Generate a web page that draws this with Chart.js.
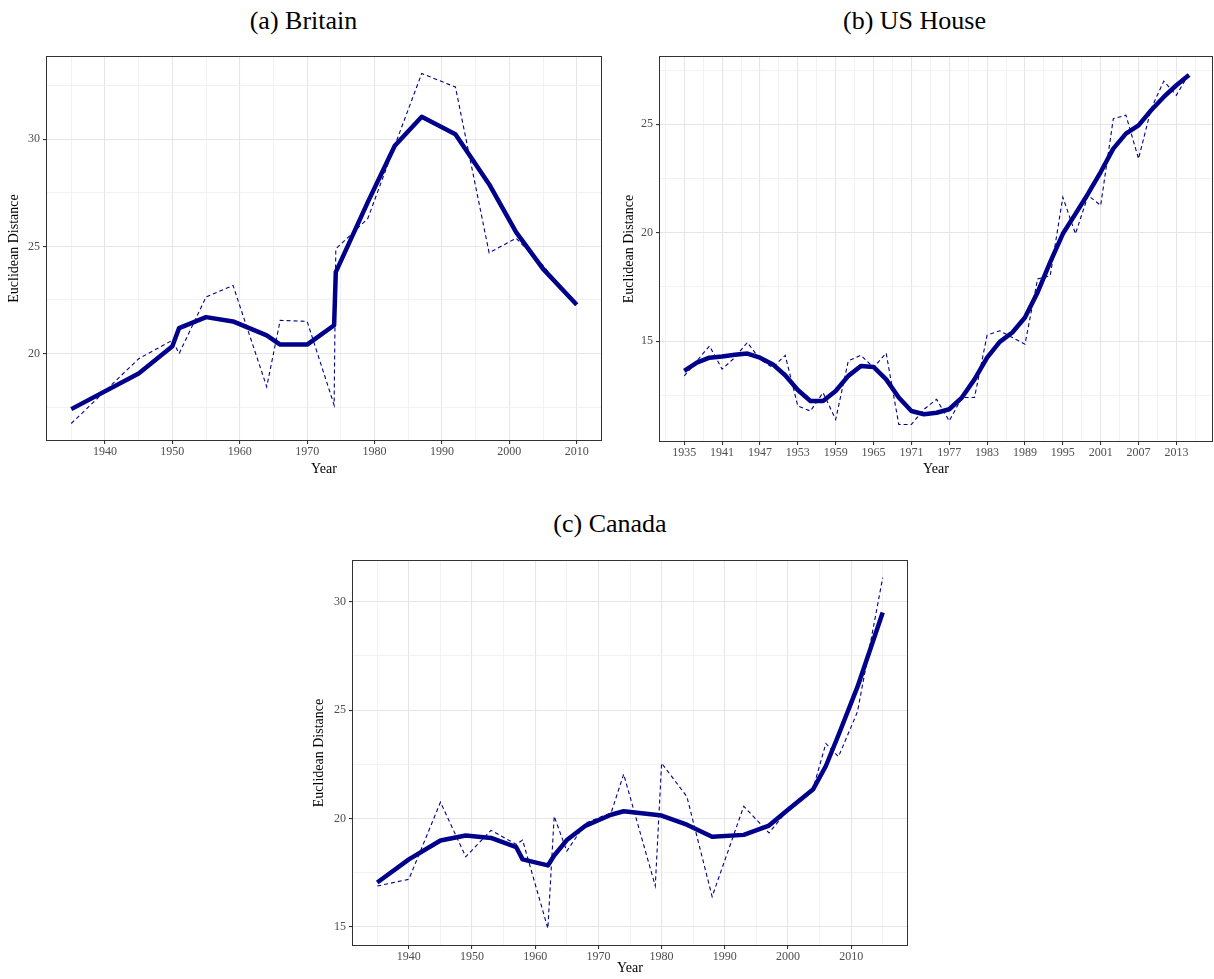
<!DOCTYPE html>
<html>
<head>
<meta charset="utf-8">
<script src="https://cdn.jsdelivr.net/npm/chart.js@4"></script>
<style>
  body { margin: 0; background: #fff; width: 1214px; height: 979px; position: relative; overflow: hidden; }
  .title { position: absolute; font-family: 'Liberation Serif', serif; font-size: 26px; line-height: 26px; text-align: center; color: #000; }
  .panel { position: absolute; }
</style>
</head>
<body>
<div class="title" style="left:0;top:8px;width:607px;">(a) Britain</div>
<div class="title" style="left:615px;top:8px;width:599px;">(b) US House</div>
<div class="title" style="left:305px;top:511px;width:610px;">(c) Canada</div>

<div class="panel" style="left:0;top:40px;width:607px;height:440px;"><canvas id="britain"></canvas></div>
<div class="panel" style="left:615px;top:40px;width:599px;height:440px;"><canvas id="us"></canvas></div>
<div class="panel" style="left:305px;top:544px;width:610px;height:435px;"><canvas id="canada"></canvas></div>

<script>
// Britain: election years (two elections in 1974)
const britainYears = [1935, 1945, 1950, 1951, 1955, 1959, 1964, 1966, 1970, 1974, 1974.25, 1979, 1983, 1987, 1992, 1997, 2001, 2005, 2010];
const britainSmooth = [17.41, 19.07, 20.34, 21.19, 21.70, 21.50, 20.85, 20.42, 20.42, 21.32, 23.80, 27.06, 29.69, 31.04, 30.23, 27.90, 25.66, 23.95, 22.28];
const britainRaw = [16.74, 19.76, 20.62, 20.00, 22.64, 23.18, 18.45, 21.55, 21.50, 17.60, 24.88, 26.30, 29.70, 33.06, 32.43, 24.70, 25.38, 24.10, 22.25];

// US House: congress start years
const usYears = [1935, 1937, 1939, 1941, 1943, 1945, 1947, 1949, 1951, 1953, 1955, 1957, 1959, 1961, 1963, 1965, 1967, 1969, 1971, 1973,
                 1975, 1977, 1979, 1981, 1983, 1985, 1987, 1989, 1991, 1993, 1995, 1997, 1999, 2001, 2003, 2005, 2007, 2009, 2011, 2013, 2015];
const usSmooth = [13.63, 14.01, 14.24, 14.29, 14.37, 14.43, 14.24, 13.94, 13.43, 12.75, 12.24, 12.24, 12.70, 13.40, 13.86, 13.81, 13.24, 12.40, 11.78, 11.63,
                  11.70, 11.86, 12.40, 13.24, 14.24, 14.97, 15.40, 16.09, 17.25, 18.64, 19.95, 20.87, 21.80, 22.80, 23.88, 24.57, 24.95, 25.65, 26.26, 26.80, 27.27];
const usRaw = [13.40, 14.09, 14.78, 13.71, 14.24, 14.94, 14.17, 13.78, 14.35, 12.01, 11.78, 12.63, 11.39, 14.09, 14.35, 13.78, 14.45, 11.16, 11.16, 11.86,
               12.32, 11.32, 12.40, 12.40, 15.28, 15.48, 15.17, 14.86, 17.87, 18.02, 21.64, 19.95, 21.72, 21.26, 25.26, 25.42, 23.41, 25.72, 26.99, 26.34, 27.34];

// Canada: election years
const canadaYears = [1935, 1940, 1945, 1949, 1953, 1957, 1958, 1962, 1963, 1965, 1968, 1972, 1974, 1979, 1980, 1984, 1988, 1993, 1997, 2000, 2004, 2006, 2008, 2011, 2015];
const canadaSmooth = [17.04, 18.11, 18.98, 19.21, 19.10, 18.67, 18.11, 17.83, 18.29, 19.00, 19.67, 20.17, 20.33, 20.17, 20.13, 19.71, 19.15, 19.24, 19.67, 20.40, 21.35, 22.42, 23.85, 26.07, 29.51];
const canadaRaw = [16.88, 17.19, 20.75, 18.23, 19.45, 18.80, 19.00, 14.92, 20.10, 18.49, 19.79, 20.25, 22.04, 16.88, 22.55, 21.01, 16.39, 20.56, 19.33, 20.40, 21.40, 23.46, 22.85, 24.92, 31.12];

Chart.defaults.font.family = "'Liberation Serif', serif";
Chart.defaults.animation = false;

// ggplot-style panel border
const framePlugin = {
  id: 'frame',
  afterDraw(chart) {
    const { ctx, chartArea: a } = chart;
    ctx.save();
    ctx.strokeStyle = '#333333';
    ctx.lineWidth = 1;
    ctx.strokeRect(Math.round(a.left) + 0.5, Math.round(a.top) + 0.5, Math.round(a.right - a.left) - 1, Math.round(a.bottom - a.top) - 1);
    ctx.restore();
  }
};

function onStep(v, step, origin) {
  const k = (v - origin) / step;
  return Math.abs(k - Math.round(k)) < 1e-6;
}

// expand like ggplot (5% each side)
function expand(vals) {
  const lo = Math.min(...vals), hi = Math.max(...vals);
  const pad = (hi - lo) * 0.05;
  return [lo - pad, hi + pad];
}

function gridFor(step, origin) {
  return {
    color: c => (c.tick && onStep(c.tick.value, step, origin)) ? '#e6e6e6' : '#efefef',
    lineWidth: c => (c.tick && onStep(c.tick.value, step, origin)) ? 1.1 : 0.8,
    tickColor: c => (c.tick && onStep(c.tick.value, step, origin)) ? '#333333' : 'rgba(0,0,0,0)',
    tickLength: 3,
    drawTicks: true
  };
}

function makePanel(id, years, smooth, raw, o) {
  const [xMin, xMax] = o.xLim || expand(years);
  const [yMin, yMax] = expand(smooth.concat(raw));
  const lastYear = years[years.length - 1];

  new Chart(document.getElementById(id), {
    type: 'line',
    data: {
      datasets: [
        {
          data: years.map((y, i) => ({ x: y, y: smooth[i] })),
          borderColor: '#00008b',
          borderWidth: 4.5,
          borderJoinStyle: 'round',
          pointRadius: 0,
          tension: 0
        },
        {
          data: years.map((y, i) => ({ x: y, y: raw[i] })),
          borderColor: '#00008b',
          borderWidth: 1.1,
          borderDash: [4, 3],
          pointRadius: 0,
          tension: 0
        }
      ]
    },
    options: {
      responsive: true,
      maintainAspectRatio: false,
      layout: { padding: { top: 16, right: o.padRight, bottom: 0, left: 0 } },
      plugins: { legend: { display: false }, tooltip: { enabled: false } },
      scales: {
        x: {
          type: 'linear',
          min: xMin,
          max: xMax,
          afterFit: s => { s.height = o.xAxisH; },
          border: { display: false },
          grid: gridFor(o.xMajor, o.xOrigin),
          ticks: {
            stepSize: o.xMajor / 2,
            includeBounds: false,
            autoSkip: false,
            maxRotation: 0,
            minRotation: 0,
            padding: 1,
            color: '#4d4d4d',
            font: { size: 12 },
            callback: v => (onStep(v, o.xMajor, o.xOrigin) && v <= lastYear) ? String(v) : ''
          },
          title: { display: true, text: 'Year', color: '#000', font: { size: 14 }, padding: { top: 0, bottom: 2 } }
        },
        y: {
          min: yMin,
          max: yMax,
          afterFit: s => { s.width = o.yAxisW; },
          border: { display: false },
          grid: gridFor(5, 0),
          ticks: {
            stepSize: 2.5,
            includeBounds: false,
            padding: 3,
            color: '#4d4d4d',
            font: { size: 12 },
            callback: v => onStep(v, 5, 0) ? String(v) : ''
          },
          title: { display: true, text: 'Euclidean Distance', color: '#000', font: { size: 14 }, padding: { top: 6, bottom: 0 } }
        }
      }
    },
    plugins: [framePlugin]
  });
}

makePanel('britain', britainYears, britainSmooth, britainRaw,
  { xMajor: 10, xOrigin: 1940, yAxisW: 46, xAxisH: 39, padRight: 5 });
makePanel('us', usYears, usSmooth, usRaw,
  { xMajor: 6, xOrigin: 1935, yAxisW: 44, xAxisH: 38, padRight: 1, xLim: [1931, 2018.8] });
makePanel('canada', canadaYears, canadaSmooth, canadaRaw,
  { xMajor: 10, xOrigin: 1940, yAxisW: 47, xAxisH: 33, padRight: 7 });
</script>
</body>
</html>
